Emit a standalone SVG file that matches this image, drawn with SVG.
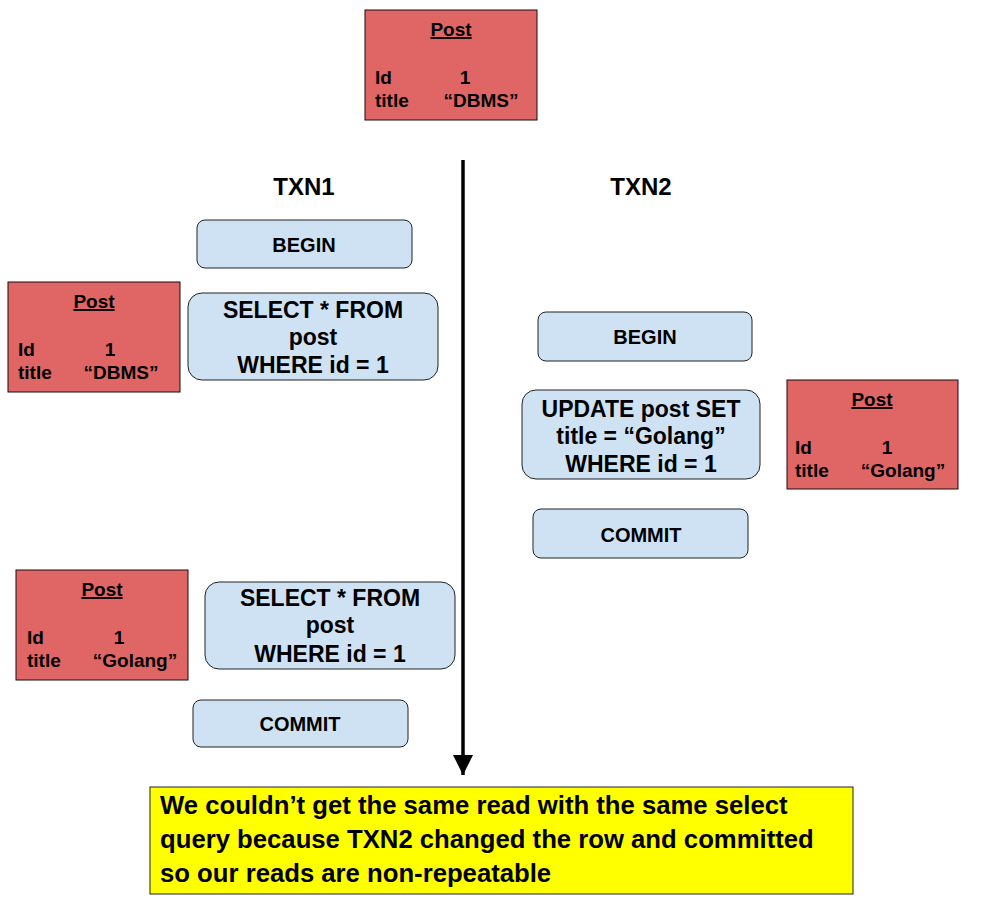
<svg xmlns="http://www.w3.org/2000/svg" width="1000" height="906" viewBox="0 0 1000 906">
<defs>
<style>
text{font-family:"Liberation Sans",Arial,sans-serif;font-weight:bold;fill:#000}
.post{fill:#e06666;stroke:#1a0a0a;stroke-width:1}
.step{fill:#cfe2f3;stroke:#222;stroke-width:1}
.pt{font-size:19px}
.st{font-size:23px}
.sm{font-size:20px}
.hd{font-size:24px}
.cap{font-size:25.7px}
</style>
<marker id="ah" markerWidth="20" markerHeight="22" refX="20" refY="10" orient="auto" markerUnits="userSpaceOnUse"><path d="M0,0 L20,10 L0,20 Z" fill="#000"/></marker>
</defs>
<rect width="1000" height="906" fill="#fff"/>
<g id="connectors">
<line x1="463" y1="160" x2="463" y2="775" stroke="#000" stroke-width="3.5" marker-end="url(#ah)"/>
</g>
<g id="post-top">
<rect class="post" x="365" y="10" width="172" height="110"/>
<text class="pt" x="451" y="36" text-anchor="middle" text-decoration="underline">Post</text>
<text class="pt" x="375" y="84">Id</text>
<text class="pt" x="465" y="84" text-anchor="middle">1</text>
<text class="pt" x="375" y="107">title</text>
<text class="pt" x="481" y="107" text-anchor="middle">“DBMS”</text>
</g>
<g id="txn1-label"><text class="hd" x="304" y="195" text-anchor="middle">TXN1</text></g>
<g id="txn2-label"><text class="hd" x="641" y="195" text-anchor="middle">TXN2</text></g>
<g id="txn1-begin">
<rect class="step" x="197" y="220" width="215" height="48" rx="8"/>
<text class="sm" x="304" y="252" text-anchor="middle">BEGIN</text>
</g>
<g id="post-left1">
<rect class="post" x="8" y="282" width="172" height="110"/>
<text class="pt" x="94" y="308" text-anchor="middle" text-decoration="underline">Post</text>
<text class="pt" x="18" y="356">Id</text>
<text class="pt" x="110" y="356" text-anchor="middle">1</text>
<text class="pt" x="18" y="379">title</text>
<text class="pt" x="121" y="379" text-anchor="middle">“DBMS”</text>
</g>
<g id="txn1-select1">
<rect class="step" x="188" y="293" width="250" height="87" rx="14"/>
<text class="st" x="313" y="318" text-anchor="middle">SELECT * FROM</text>
<text class="st" x="313" y="345" text-anchor="middle">post</text>
<text class="st" x="313" y="373" text-anchor="middle">WHERE id = 1</text>
</g>
<g id="txn2-begin">
<rect class="step" x="538" y="312" width="214" height="49" rx="8"/>
<text class="sm" x="645" y="344" text-anchor="middle">BEGIN</text>
</g>
<g id="txn2-update">
<rect class="step" x="522" y="390" width="238" height="89" rx="14"/>
<text class="st" x="641" y="417" text-anchor="middle">UPDATE post SET</text>
<text class="st" x="641" y="444" text-anchor="middle">title = “Golang”</text>
<text class="st" x="641" y="472" text-anchor="middle">WHERE id = 1</text>
</g>
<g id="post-right">
<rect class="post" x="787" y="380" width="171" height="109"/>
<text class="pt" x="872" y="406" text-anchor="middle" text-decoration="underline">Post</text>
<text class="pt" x="795" y="454">Id</text>
<text class="pt" x="887" y="454" text-anchor="middle">1</text>
<text class="pt" x="795" y="477">title</text>
<text class="pt" x="903" y="477" text-anchor="middle">“Golang”</text>
</g>
<g id="txn2-commit">
<rect class="step" x="533" y="509" width="215" height="49" rx="8"/>
<text class="sm" x="641" y="542" text-anchor="middle">COMMIT</text>
</g>
<g id="post-left2">
<rect class="post" x="16" y="570" width="172" height="110"/>
<text class="pt" x="102" y="596" text-anchor="middle" text-decoration="underline">Post</text>
<text class="pt" x="27" y="644">Id</text>
<text class="pt" x="119" y="644" text-anchor="middle">1</text>
<text class="pt" x="27" y="667">title</text>
<text class="pt" x="135" y="667" text-anchor="middle">“Golang”</text>
</g>
<g id="txn1-select2">
<rect class="step" x="205" y="582" width="250" height="87" rx="14"/>
<text class="st" x="330" y="606" text-anchor="middle">SELECT * FROM</text>
<text class="st" x="330" y="633" text-anchor="middle">post</text>
<text class="st" x="330" y="662" text-anchor="middle">WHERE id = 1</text>
</g>
<g id="txn1-commit">
<rect class="step" x="193" y="700" width="215" height="47" rx="8"/>
<text class="sm" x="300" y="731" text-anchor="middle">COMMIT</text>
</g>
<g id="note">
<rect x="150" y="787" width="703" height="107" fill="#ffff00" stroke="#222" stroke-width="1"/>
<text class="cap" x="160" y="814">We couldn’t get the same read with the same select</text>
<text class="cap" x="160" y="848">query because TXN2 changed the row and committed</text>
<text class="cap" x="160" y="882">so our reads are non-repeatable</text>
</g>
</svg>
